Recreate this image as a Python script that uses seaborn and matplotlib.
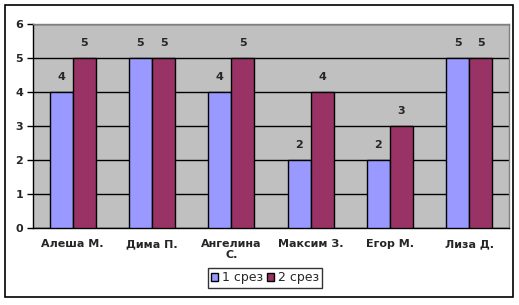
import matplotlib
matplotlib.use("Agg")
import matplotlib.pyplot as plt
import seaborn as sns
import pandas as pd
from matplotlib.patches import Rectangle

categories = ["Алеша М.", "Дима П.", "Ангелина\nС.", "Максим З.", "Егор М.", "Лиза Д."]
series1 = [4, 5, 4, 2, 2, 5]
series2 = [5, 5, 5, 4, 3, 5]
series_names = ["1 срез", "2 срез"]
colors = ["#9999FF", "#993366"]
yticks = [0, 1, 2, 3, 4, 5, 6]

df = pd.DataFrame({
    "cat": categories * 2,
    "val": series1 + series2,
    "series": [series_names[0]] * len(categories) + [series_names[1]] * len(categories),
})

sns.set_style("white")
plt.rcParams['font.family'] = ['DejaVu Sans']

W, H = 519, 305
fig = plt.figure(figsize=(W / 100, H / 100), dpi=100)
ax = fig.add_axes([33 / W, 1 - 228 / H, (509 - 33) / W, (228 - 24) / H])
ax.set_facecolor("#C0C0C0")

sns.barplot(data=df, x="cat", y="val", hue="series", palette=colors,
            saturation=1, width=0.58, gap=0, edgecolor="black", linewidth=1,
            ax=ax, legend=True, zorder=3)

ax.set_ylim(0, 6)
ax.set_xlim(-0.5, len(categories) - 0.5)
ax.set_yticks(yticks)
ax.set_yticklabels([str(t) for t in yticks], fontsize=8, fontweight="bold")
ax.yaxis.grid(True, color="black", linewidth=1, zorder=0)
ax.set_axisbelow(True)
ax.set_xlabel("")
ax.set_ylabel("")
ax.set_xticks(range(len(categories)))
ax.set_xticklabels(categories, fontsize=8, fontweight="bold", linespacing=1.1)
ax.set_xticks([i - 0.5 for i in range(len(categories) + 1)], minor=True)
ax.tick_params(axis="x", which="major", length=0, pad=8)
ax.tick_params(axis="x", which="minor", length=4, width=1, color="black", direction="out")
ax.tick_params(axis="y", which="major", length=4, width=1, color="black", direction="out", pad=3, left=True)

for s in ["left", "bottom"]:
    ax.spines[s].set_color("black")
    ax.spines[s].set_linewidth(1)
for s in ["top", "right"]:
    ax.spines[s].set_color("#808080")
    ax.spines[s].set_linewidth(1)

for cont in ax.containers:
    ax.bar_label(cont, padding=7, fontsize=8, fontweight="bold")

handles, labels = ax.get_legend_handles_labels()
ax.get_legend().remove()
leg = fig.legend(handles, labels, loc="center", bbox_to_anchor=(265 / W, 1 - 278 / H),
                 ncol=2, frameon=True, fancybox=False, edgecolor="black",
                 fontsize=9, handlelength=0.6, handleheight=0.6, handletextpad=0.3,
                 columnspacing=0.3, borderpad=0.25, borderaxespad=0)
leg.get_frame().set_linewidth(1)

fig.patches.append(Rectangle((5 / W, 1 - 297 / H), (513 - 5) / W, (297 - 5) / H,
                             transform=fig.transFigure, fill=False,
                             edgecolor="black", linewidth=1.2))

fig.savefig("out.png", dpi=100)
